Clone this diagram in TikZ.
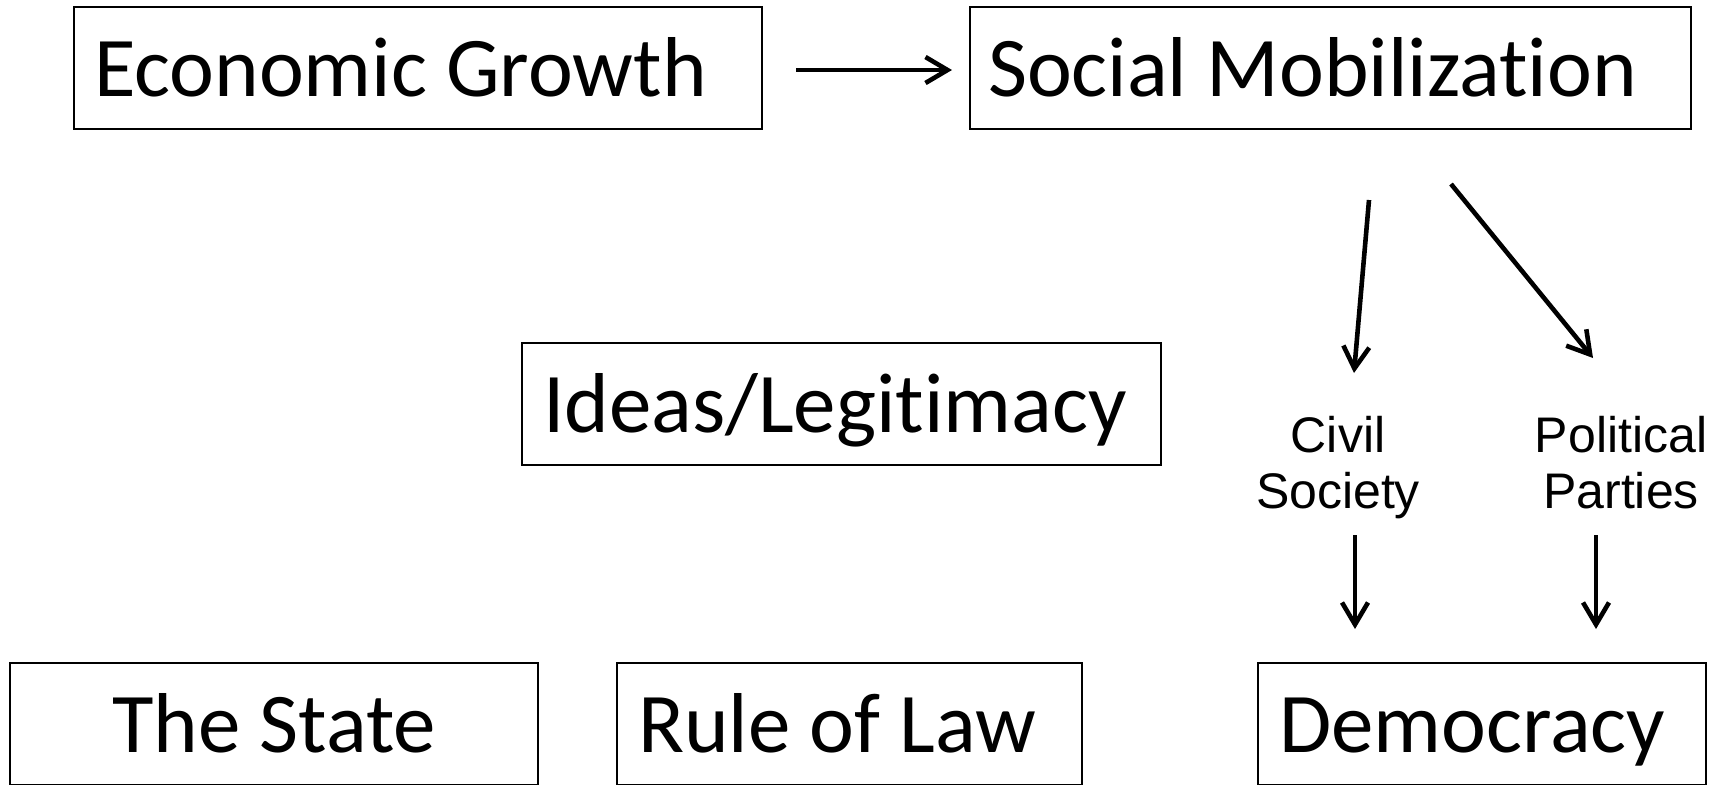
\documentclass[tikz,border=0pt]{standalone}
\usepackage{fontspec}
\setmainfont{Carlito}[Ligatures={NoCommon}]
\newfontfamily\arialfont{Liberation Sans}
\usetikzlibrary{arrows.meta}
\begin{document}
\begin{tikzpicture}[x=0.5pt,y=-0.5pt,
  box/.style={draw,line width=1pt,minimum height=61pt,inner ysep=0pt,align=flush left,
    font=\fontsize{42.5}{50}\selectfont,text height=31pt,text depth=2.5pt},
  label/.style={align=center,font=\arialfont\fontsize{25}{28}\selectfont,
    text depth=0.21em},
  arr/.style={line width=2.3pt,-{Straight Barb[length=11pt,width=13pt]}}]
%
\useasboundingbox (0,0) rectangle (1713,784);
%
\node[box,text width=324pt,inner xsep=10pt] (eg) at (418,68) {Economic Growth};
\node[box,text width=342.5pt,inner xsep=9pt] (sm) at (1330.5,68) {Social Mobilization};
\node[box,text width=298.5pt,inner xsep=10.5pt] (il) at (841.5,404) {Ideas/Legitimacy};
\node[box,text width=264pt,inner xsep=0pt,align=flush center] (st) at (274,724) {The State};
\node[box,text width=211.5pt,inner xsep=10.5pt] (rl) at (849.5,724) {Rule of Law};
\node[box,text width=203pt,inner xsep=10.5pt] (dm) at (1482,724) {Democracy};
%
\node[label] (cs) at (1338,464) {Civil\\Society};
\node[label] (pp) at (1621,464) {Political\\Parties};
%
\draw[arr,shorten <=16.5pt,shorten >=8.5pt] ([yshift=-1pt]eg.east) -- ([yshift=-1pt]sm.west);
\draw[arr] ([shift={(38.5,70)}]sm.south) -- ([shift={(16,-91)}]cs.center);
\draw[arr] ([shift={(120.5,54)}]sm.south) -- ([shift={(-28,-106)}]pp.center);
%
\draw[arr] ([shift={(17,71)}]cs.center) -- ([shift={(-127,-33)}]dm.north);
\draw[arr] ([shift={(-25,71)}]pp.center) -- ([shift={(114,-33)}]dm.north);
\end{tikzpicture}
\end{document}
